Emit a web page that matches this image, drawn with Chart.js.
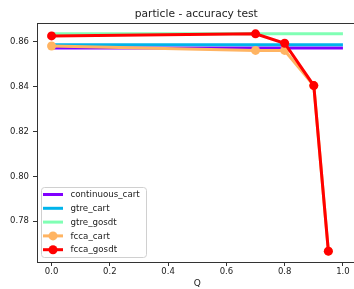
<!DOCTYPE html>
<html>
<head>
<meta charset="utf-8">
<script src="https://cdn.jsdelivr.net/npm/chart.js@4"></script>
<style>
  html, body { margin: 0; padding: 0; background: #fff; overflow: hidden; }
  #wrap { width: 362px; height: 289px; }
</style>
</head>
<body>
<div id="wrap"><canvas id="chart" width="362" height="289"></canvas></div>
<script>
// Q values for the fcca runs, and the span of the flat baselines
const qValues = [0, 0.7, 0.8, 0.9, 0.95];
const baselineQ = [0, 1];

// accuracy
const continuousCart = [0.8573, 0.8573];
const gtreCart = [0.8587, 0.8587];
const gtreGosdt = [0.8636, 0.8636];
const fccaCart = [0.8582, 0.8562, 0.8562, 0.8405, 0.7666];
const fccaGosdt = [0.8627, 0.8636, 0.8594, 0.8405, 0.7666];

const xTicks = [0, 0.2, 0.4, 0.6, 0.8, 1.0];
const yTicks = [0.78, 0.80, 0.82, 0.84, 0.86];

const chartTitle = 'particle - accuracy test';

const toPoints = (xs, ys) => ys.map((y, i) => ({ x: xs[i], y: y }));

const FONT = 'DejaVu Sans';

// box around the plot, like matplotlib spines, plus the title above it
const frame = {
    id: 'frame',
    afterDraw(chart) {
        const a = chart.chartArea;
        const ctx = chart.ctx;
        ctx.save();
        ctx.strokeStyle = '#333';
        ctx.lineWidth = 1;
        ctx.strokeRect(Math.round(a.left) + 0.5, Math.round(a.top) + 0.5,
            Math.round(a.right - a.left), Math.round(a.bottom - a.top));
        ctx.fillStyle = '#222';
        ctx.font = '10.7px "' + FONT + '"';
        ctx.textAlign = 'center';
        ctx.textBaseline = 'middle';
        ctx.fillText(chartTitle, (a.left + a.right) / 2 - 1, 14);
        ctx.restore();
    }
};

// legend inside the plot, lower left
const innerLegend = {
    id: 'innerLegend',
    afterDatasetsDraw(chart) {
        const a = chart.chartArea;
        const ctx = chart.ctx;
        const sets = chart.data.datasets;
        const rowH = 13.8;
        const x0 = a.left + 4, w = 105, h = 70;
        const y0 = a.bottom - 5 - h;
        ctx.save();
        ctx.beginPath();
        ctx.roundRect(x0 + 0.5, y0 + 0.5, w, h, 3);
        ctx.fillStyle = 'rgba(255,255,255,0.8)';
        ctx.fill();
        ctx.strokeStyle = '#d0d0d0';
        ctx.lineWidth = 1;
        ctx.stroke();
        sets.forEach((ds, i) => {
            const yc = y0 + 7.5 + i * rowH;
            ctx.strokeStyle = ds.borderColor;
            ctx.lineWidth = 3;
            ctx.beginPath();
            ctx.moveTo(x0 + 2, yc);
            ctx.lineTo(x0 + 22, yc);
            ctx.stroke();
            if (ds.pointRadius > 0) {
                ctx.fillStyle = ds.borderColor;
                ctx.beginPath();
                ctx.arc(x0 + 12, yc, ds.pointRadius, 0, Math.PI * 2);
                ctx.fill();
            }
            ctx.fillStyle = '#222';
            ctx.font = '8.7px "' + FONT + '"';
            ctx.textBaseline = 'middle';
            ctx.fillText(ds.label, x0 + 29.5, yc + 0.5);
        });
        ctx.restore();
    }
};

const lineSet = (label, xs, ys, color, order, marker) => ({
    label: label,
    data: toPoints(xs, ys),
    borderColor: color,
    backgroundColor: color,
    borderWidth: 3,
    pointRadius: marker ? 4.5 : 0,
    pointHoverRadius: marker ? 4.5 : 0,
    pointBorderWidth: 0,
    pointBackgroundColor: color,
    tension: 0,
    fill: false,
    order: order
});

new Chart(document.getElementById('chart').getContext('2d'), {
    type: 'line',
    data: {
        datasets: [
            lineSet('continuous_cart', baselineQ, continuousCart, '#8000ff', 5, false),
            lineSet('gtre_cart', baselineQ, gtreCart, '#00b4eb', 4, false),
            lineSet('gtre_gosdt', baselineQ, gtreGosdt, '#80ffb4', 3, false),
            lineSet('fcca_cart', qValues, fccaCart, '#ffb462', 2, true),
            lineSet('fcca_gosdt', qValues, fccaGosdt, '#ff0000', 1, true)
        ]
    },
    options: {
        responsive: false,
        animation: false,
        layout: { padding: { left: 0, right: 3, top: 23, bottom: 0 } },
        plugins: {
            legend: { display: false },
            tooltip: { enabled: false },
            title: { display: false }
        },
        scales: {
            x: {
                type: 'linear',
                min: -0.05,
                max: 1.05,
                afterFit: s => { s.height = 27; },
                afterBuildTicks: s => { s.ticks = xTicks.map(v => ({ value: v })); },
                border: { display: false },
                grid: { drawOnChartArea: false, drawTicks: true, tickLength: 4, color: '#333' },
                ticks: {
                    includeBounds: false,
                    padding: 1,
                    color: '#222',
                    font: { family: FONT, size: 8.5 },
                    maxRotation: 0,
                    callback: v => v.toFixed(1)
                },
                title: {
                    display: true,
                    text: 'Q',
                    color: '#222',
                    font: { family: FONT, size: 9 },
                    padding: 0
                }
            },
            y: {
                type: 'linear',
                min: 0.76175,
                max: 0.86845,
                afterFit: s => { s.width = 37; },
                afterBuildTicks: s => { s.ticks = yTicks.map(v => ({ value: v })); },
                border: { display: false },
                grid: { drawOnChartArea: false, drawTicks: true, tickLength: 4, color: '#333' },
                ticks: {
                    includeBounds: false,
                    padding: 4,
                    color: '#222',
                    font: { family: FONT, size: 8.5 },
                    callback: v => v.toFixed(2)
                }
            }
        }
    },
    plugins: [frame, innerLegend]
});
</script>
</body>
</html>
